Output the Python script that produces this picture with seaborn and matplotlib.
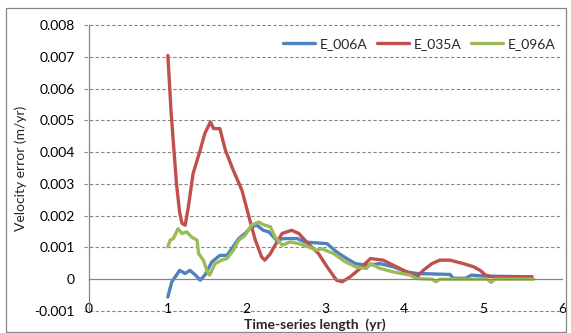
# Velocity error vs time-series length, Excel-style line chart
import matplotlib
matplotlib.use("Agg")
import matplotlib.pyplot as plt
from matplotlib.patches import Rectangle
import seaborn as sns
import pandas as pd
import numpy as np

# series values (y in units of 1e-3 m/yr)
e006_x = [1.00, 1.05, 1.11, 1.15, 1.22, 1.28, 1.35, 1.41, 1.47, 1.56, 1.66, 1.75,
          1.81, 1.90, 1.98, 2.06, 2.13, 2.21, 2.28, 2.38, 2.47, 2.64, 2.74, 3.02,
          3.14, 3.27, 3.38, 3.52, 3.69, 3.86, 4.03, 4.16, 4.58, 4.62, 4.78, 4.85,
          5.00, 5.50]
e006_y = [-0.56, -0.08, 0.13, 0.28, 0.18, 0.28, 0.13, -0.03, 0.13, 0.55, 0.75, 0.75,
          0.96, 1.28, 1.44, 1.65, 1.70, 1.54, 1.49, 1.23, 1.28, 1.28, 1.17, 1.12,
          0.86, 0.65, 0.49, 0.44, 0.49, 0.39, 0.23, 0.18, 0.15, 0.03, 0.03, 0.13,
          0.10, 0.08]

e035_x = [1.00, 1.02, 1.04, 1.07, 1.11, 1.15, 1.18, 1.22, 1.26, 1.32, 1.41, 1.47,
          1.54, 1.58, 1.66, 1.73, 1.83, 1.94, 2.04, 2.11, 2.19, 2.23, 2.30, 2.36,
          2.45, 2.57, 2.66, 2.78, 2.91, 3.02, 3.14, 3.21, 3.31, 3.44, 3.57, 3.73,
          3.86, 3.99, 4.12, 4.16, 4.24, 4.35, 4.45, 4.58, 4.75, 4.88, 4.96, 5.03,
          5.10, 5.62]
e035_y = [7.04, 6.20, 5.30, 4.30, 3.00, 2.10, 1.76, 1.70, 2.27, 3.32, 4.06, 4.59,
          4.95, 4.74, 4.74, 4.06, 3.43, 2.80, 1.86, 1.23, 0.70, 0.60, 0.80, 1.07,
          1.44, 1.54, 1.44, 1.12, 0.81, 0.39, -0.03, -0.08, 0.07, 0.34, 0.65, 0.60,
          0.44, 0.28, 0.13, 0.07, 0.28, 0.49, 0.60, 0.60, 0.49, 0.39, 0.28, 0.13,
          0.08, 0.08]

e096_x = [1.00, 1.03, 1.07, 1.13, 1.18, 1.24, 1.30, 1.37, 1.39, 1.45, 1.51, 1.53,
          1.60, 1.68, 1.75, 1.83, 1.90, 1.98, 2.06, 2.15, 2.23, 2.30, 2.36, 2.45,
          2.55, 2.66, 2.78, 2.89, 2.95, 3.10, 3.25, 3.40, 3.52, 3.57, 3.69, 3.86,
          4.07, 4.16, 4.35, 4.40, 4.45, 5.05, 5.10, 5.15, 5.64]
e096_y = [1.02, 1.23, 1.28, 1.59, 1.44, 1.49, 1.33, 1.23, 0.81, 0.60, 0.18, 0.13,
          0.49, 0.60, 0.65, 0.91, 1.23, 1.38, 1.70, 1.80, 1.70, 1.65, 1.33, 1.07,
          1.17, 1.12, 1.02, 0.91, 0.96, 0.81, 0.55, 0.37, 0.34, 0.49, 0.34, 0.23,
          0.13, 0.02, 0.00, -0.08, 0.00, 0.00, -0.10, 0.00, 0.00]

series_names = ["E_006A", "E_035A", "E_096A"]
series_colors = ["#4F81BD", "#C0504D", "#9BBB59"]
x_ticks = [0, 1, 2, 3, 4, 5, 6]
y_ticks = [-0.001, 0, 0.001, 0.002, 0.003, 0.004, 0.005, 0.006, 0.007, 0.008]
y_tick_labels = ["-0.001", "0", "0.001", "0.002", "0.003", "0.004",
                 "0.005", "0.006", "0.007", "0.008"]

frames = []
for name, xs, ys in zip(series_names, [e006_x, e035_x, e096_x], [e006_y, e035_y, e096_y]):
    frames.append(pd.DataFrame({"length": xs, "error": np.array(ys) * 1e-3, "series": name}))
df = pd.concat(frames, ignore_index=True)

sns.set_style("white")
plt.rcParams["font.family"] = ["Lato", "DejaVu Sans"]
plt.rcParams["font.size"] = 10

fig = plt.figure(figsize=(5.71, 3.33), dpi=100)
ax = fig.add_axes([89 / 571, 1 - 311 / 333, (562 - 89) / 571, (311 - 25) / 333])

sns.lineplot(data=df, x="length", y="error", hue="series", hue_order=series_names,
             palette=series_colors, estimator=None, sort=False, linewidth=2.4, ax=ax)

ax.set_xlim(0, 6)
ax.set_ylim(-0.001, 0.008)

grid_color = "#868686"
for v in y_ticks:
    if v != 0:
        ax.plot([-0.065, 6], [v, v], color=grid_color, lw=0.8, ls=(0, (3, 2)),
                clip_on=False, zorder=0)

for side in ["top", "right"]:
    ax.spines[side].set_visible(False)
ax.spines["bottom"].set_position(("data", 0))
ax.spines["bottom"].set_color(grid_color)
ax.spines["left"].set_color(grid_color)
ax.spines["bottom"].set_linewidth(0.9)
ax.spines["left"].set_linewidth(0.9)

ax.set_xticks(x_ticks)
ax.set_xticklabels([str(t) for t in x_ticks])
ax.set_yticks(y_ticks)
ax.set_yticklabels(y_tick_labels)
ax.tick_params(axis="x", direction="out", length=4.5, width=0.9, color=grid_color,
               pad=12.5, labelsize=10, labelcolor="black")
ax.tick_params(axis="y", direction="out", length=0, pad=10, labelsize=10,
               labelcolor="black")

ax.set_xlabel("")
ax.set_ylabel("Velocity error (m/yr)", fontsize=10)
ax.yaxis.set_label_coords(-0.132, 0.5)
fig.text(315 / 571, 1 - 325 / 333, "Time-series length  (yr)", ha="center",
         va="center", fontsize=10, fontweight="bold")

leg = ax.legend(loc="upper right", bbox_to_anchor=(0.997, 0.975), ncol=3, frameon=False,
                fontsize=10, handlelength=2.3, columnspacing=0.72, handletextpad=0.3,
                borderaxespad=0)
for line in leg.get_lines():
    line.set_linewidth(2.4)

fig.patches.append(Rectangle((6 / 571, 1 / 333), 560 / 571, 324 / 333,
                             transform=fig.transFigure, fill=False,
                             edgecolor="#868686", lw=0.9))

fig.savefig("out.png", dpi=100)
